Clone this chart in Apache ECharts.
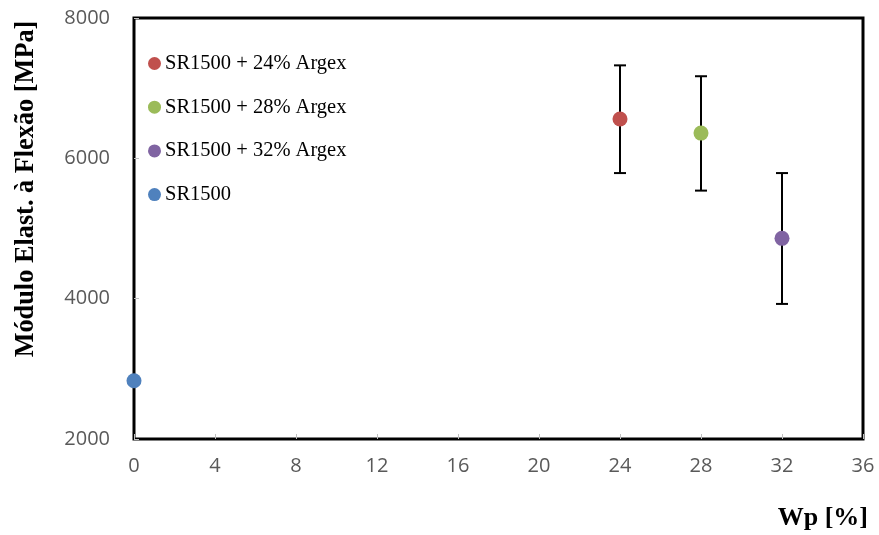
<!DOCTYPE html>
<html>
<head>
<meta charset="utf-8">
<script src="https://cdn.jsdelivr.net/npm/echarts@6/dist/echarts.min.js"></script>
<style>
  html, body { margin: 0; padding: 0; background: #fff; }
  #chart { width: 879px; height: 535px; }
</style>
</head>
<body>
<div id="chart"></div>
<script>
// Flexural modulus versus Argex content
const seriesNames = ['SR1500 + 24% Argex', 'SR1500 + 28% Argex', 'SR1500 + 32% Argex', 'SR1500'];
const seriesColors = ['#C0504D', '#9BBB59', '#8064A2', '#4F81BD'];
const wpPercent = [24, 28, 32, 0];
const modulusMPa = [6560, 6360, 4860, 2830];
const errLowMPa = [5790, 5540, 3925, null];
const errHighMPa = [7325, 7170, 5790, null];
const xTicks = [0, 4, 8, 12, 16, 20, 24, 28, 32, 36];
const yTicks = [2000, 4000, 6000, 8000];

const chart = echarts.init(document.getElementById('chart'));

const pointSeries = seriesNames.map((name, i) => ({
  name: name,
  type: 'scatter',
  symbol: 'circle',
  symbolSize: 15,
  itemStyle: { color: seriesColors[i], opacity: 1 },
  data: [[wpPercent[i], modulusMPa[i]]],
  z: 5
}));

const errData = [];
for (let i = 0; i < wpPercent.length; i++) {
  if (errLowMPa[i] != null) errData.push([wpPercent[i], errLowMPa[i], errHighMPa[i]]);
}

const errorSeries = {
  type: 'custom',
  name: 'err',
  data: errData,
  z: 3,
  renderItem: function (params, api) {
    const x = api.value(0);
    const lo = api.coord([x, api.value(1)]);
    const hi = api.coord([x, api.value(2)]);
    const cap = 6;
    const style = { stroke: '#000', lineWidth: 2 };
    return {
      type: 'group',
      children: [
        { type: 'line', shape: { x1: lo[0], y1: lo[1], x2: hi[0], y2: hi[1] }, style: style },
        { type: 'line', shape: { x1: lo[0] - cap, y1: lo[1], x2: lo[0] + cap, y2: lo[1] }, style: style },
        { type: 'line', shape: { x1: hi[0] - cap, y1: hi[1], x2: hi[0] + cap, y2: hi[1] }, style: style }
      ]
    };
  }
};

chart.setOption({
  animation: false,
  backgroundColor: '#fff',
  grid: {
    left: 134, right: 16, top: 18, bottom: 96,
    show: true, borderColor: '#000', borderWidth: 3, backgroundColor: 'transparent'
  },
  legend: {
    data: seriesNames,
    orient: 'vertical',
    left: 143, top: 47,
    icon: 'circle',
    itemWidth: 13, itemHeight: 13,
    itemGap: 20.7,
    itemStyle: { opacity: 1 },
    textStyle: { fontFamily: 'Liberation Serif', fontSize: 20.5, lineHeight: 23, color: '#000', padding: [0, 0, 0, -1] }
  },
  xAxis: {
    type: 'value',
    min: 0, max: 36, interval: 4,
    axisLine: { show: true, lineStyle: { color: '#000', width: 2 } },
    axisTick: { show: true, inside: true, length: 5, lineStyle: { color: '#bfbfbf', width: 1 } },
    splitLine: { show: false },
    axisLabel: {
      margin: 17, fontFamily: 'Open Sans', fontSize: 20, color: '#595959',
      formatter: v => (xTicks.indexOf(v) >= 0 ? String(v) : '')
    }
  },
  yAxis: {
    type: 'value',
    min: 2000, max: 8000, interval: 2000,
    axisLine: { show: true, lineStyle: { color: '#000', width: 2 } },
    axisTick: { show: true, inside: true, length: 5, lineStyle: { color: '#bfbfbf', width: 1 } },
    splitLine: { show: false },
    axisLabel: {
      margin: 24, fontFamily: 'Open Sans', fontSize: 20, color: '#595959',
      formatter: v => (yTicks.indexOf(v) >= 0 ? String(v) : '')
    }
  },
  graphic: [
    {
      type: 'text',
      x: 26, y: 189,
      rotation: Math.PI / 2,
      style: {
        text: 'Módulo Elast. à Flexão [MPa]',
        font: 'bold 26.3px "Liberation Serif"',
        fill: '#000',
        align: 'center',
        verticalAlign: 'middle'
      }
    },
    {
      type: 'text',
      right: 11, top: 505,
      style: {
        text: 'Wp [%]',
        font: 'bold 26px "Liberation Serif"',
        fill: '#000'
      }
    }
  ],
  series: [errorSeries].concat(pointSeries)
});
</script>
</body>
</html>
